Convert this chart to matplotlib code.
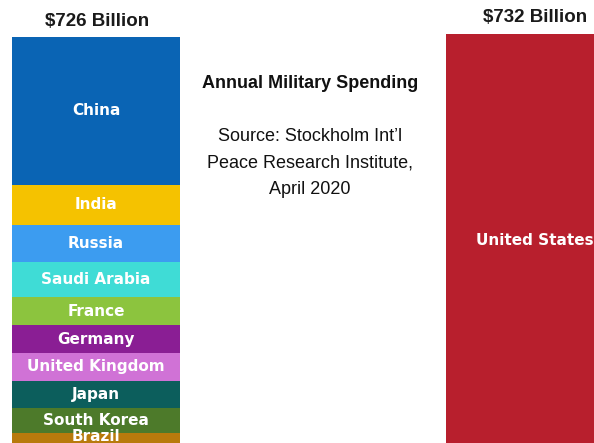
import matplotlib
matplotlib.use("Agg")
import matplotlib.pyplot as plt
from matplotlib import font_manager

# Data (billions USD, SIPRI April 2020)
countries = ['Brazil', 'South Korea', 'Japan', 'United Kingdom', 'Germany',
             'France', 'Saudi Arabia', 'Russia', 'India', 'China']
spending = [27, 44, 48, 49, 49, 50, 62, 65, 71, 261]
colors = ['#b87a0c', '#4d7a2a', '#0c5e5c', '#d072d6', '#8a1e94',
          '#8cc43e', '#3fdcd6', '#3c9cf0', '#f5c200', '#0a64b4']
us_label = 'United States'
us_spending = [732]
us_color = '#b81f2d'

totals = [sum(spending), us_spending[0]]
total_labels = ['$%d Billion' % t for t in totals]

names = [f.name for f in font_manager.fontManager.ttflist]
narrow = 'Liberation Sans Narrow' if 'Liberation Sans Narrow' in names else None
if narrow:
    bar_font = dict(family=[narrow, 'DejaVu Sans'], fontsize=14, fontweight='bold')
else:
    bar_font = dict(family=['DejaVu Sans'], fontsize=11, fontweight='bold')

W, H = 594, 443
fig = plt.figure(figsize=(W / 100, H / 100), dpi=100)

# baseline sits a few pixels below the figure edge, like the cropped original
scale = 0.566           # px per billion
base_px = 448
ymax = 790
ax = fig.add_axes([0, (H - base_px) / H, 1, ymax * scale / H])
ax.set_xlim(-96 / 434, (W - 96) / 434)
ax.set_ylim(0, ymax)
ax.axis('off')

bw = 168 / 434
bottom = 0
for name, val, col in zip(countries, spending, colors):
    ax.bar(0, val, bottom=bottom, width=bw, color=col, linewidth=0)
    ty = bottom + val / 2
    if name == 'Brazil':
        ty = bottom + val * 0.75
    ax.text(0, ty, name, ha='center', va='center',
            color='white', **bar_font)
    bottom += val

ax.bar(1, us_spending[0], width=bw, color=us_color, linewidth=0)
ax.text(1.01, us_spending[0] / 2, us_label, ha='center', va='center',
        color='white', **bar_font)

# totals above bars
fig.text(97 / W, 1 - 21 / H, total_labels[0], ha='center', va='center',
         fontsize=13.5, fontweight='bold', family=['Liberation Sans', 'DejaVu Sans'],
         color='#1a1a1a')
fig.text(535 / W, 1 - 17 / H, total_labels[1], ha='center', va='center',
         fontsize=13.5, fontweight='bold', family=['Liberation Sans', 'DejaVu Sans'],
         color='#1a1a1a')

# middle annotation
fig.text(310 / W, 1 - 83 / H, 'Annual Military Spending', ha='center', va='center',
         fontsize=13, fontweight='bold', family=['Liberation Sans', 'DejaVu Sans'],
         color='#111111')
fig.text(310 / W, 1 - 163 / H,
         'Source: Stockholm Int\u2019l\nPeace Research Institute,\nApril 2020',
         ha='center', va='center', fontsize=13, linespacing=1.75,
         family=['Liberation Sans', 'DejaVu Sans'], color='#111111')

fig.savefig('out.png', dpi=100)
